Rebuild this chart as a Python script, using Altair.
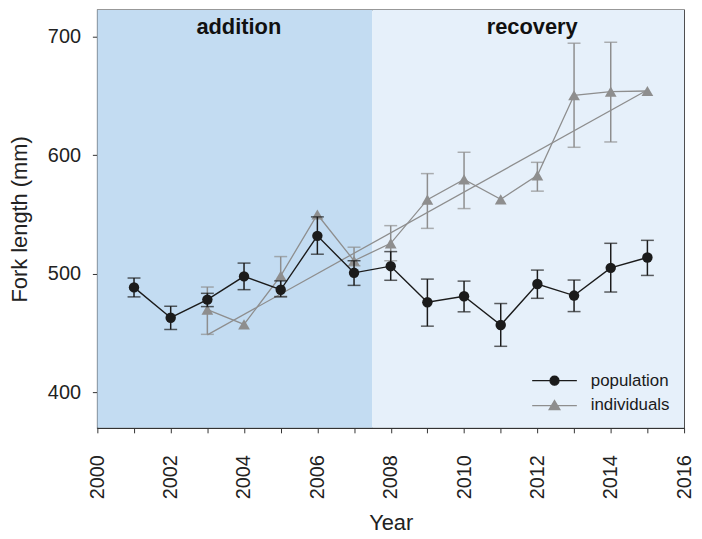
import altair as alt
import pandas as pd

# ---- data ----
pop_years = [2001, 2002, 2003, 2004, 2005, 2006, 2007, 2008, 2009, 2010, 2011, 2012, 2013, 2014, 2015]
pop_mean = [488.5, 462.9, 478.2, 497.8, 486.5, 532.0, 500.8, 506.4, 476.0, 481.0, 456.8, 491.4, 481.6, 505.0, 513.7]
pop_lo = [480.5, 453.0, 472.3, 486.6, 480.5, 516.5, 490.2, 494.5, 455.8, 467.9, 438.8, 479.3, 468.1, 484.6, 498.6]
pop_hi = [496.4, 472.6, 483.5, 509.0, 494.0, 548.0, 511.0, 518.7, 495.5, 493.8, 474.9, 503.1, 494.7, 525.7, 528.2]

ind_years = [2003, 2004, 2005, 2006, 2007, 2008, 2009, 2010, 2011, 2012, 2013, 2014, 2015]
ind_mean = [469.8, 457.3, 498.3, 550.0, 511.0, 525.7, 562.5, 579.6, 562.8, 583.0, 650.6, 653.6, 654.2]
ind_lo = [448.9, None, 481.0, None, 506.7, 511.0, 538.3, 555.0, None, 569.7, 606.7, 611.2, None]
ind_hi = [488.8, None, 514.5, None, 522.4, 540.6, 584.5, 602.5, None, 594.0, 694.5, 695.3, None]

trend_years = [2003, 2015]
trend_vals = [448.5, 655.0]

phases = ["addition", "recovery"]
phase_start = [2000, 2007.5]
phase_end = [2007.5, 2016]

series_names = ["population", "individuals"]

x_ticks = list(range(2000, 2017))
y_ticks = [400, 500, 600, 700]

# ---- styling ----
BLACK = "#1b1b1b"
GRAY = "#8e8e8e"
BAND_COLORS = ["#c3dcf2", "#e6f0fa"]
FONT = "Liberation Sans"
W, H = 591, 421

pop = pd.DataFrame({"year": pop_years, "mean": pop_mean, "lo": pop_lo, "hi": pop_hi})
ind = pd.DataFrame({"year": ind_years, "mean": ind_mean, "lo": ind_lo, "hi": ind_hi})
trend = pd.DataFrame({"year": trend_years, "val": trend_vals})
bands = pd.DataFrame({"phase": phases, "start": phase_start, "end": phase_end})
leg = pd.DataFrame({"series": series_names})

xscale = alt.Scale(domain=[2000, 2016], nice=False, zero=False)
yscale = alt.Scale(domain=[370, 722.6], nice=False, zero=False)

x_axis = alt.Axis(
    title="Year", values=x_ticks, format="d",
    labelExpr="datum.value % 2 == 0 ? datum.label : ''",
    labelAngle=270, labelFontSize=20, titleFontSize=22,
    labelPadding=22, titlePadding=14, tickSize=5, grid=False,
)
y_axis = alt.Axis(
    title="Fork length (mm)", values=y_ticks, labelFontSize=20, titleFontSize=22,
    labelPadding=12, titlePadding=16, tickSize=5, grid=False,
)

X = alt.X("year:Q", scale=xscale, axis=x_axis)

band_layer = alt.Chart(bands).mark_rect().encode(
    x=alt.X("start:Q", scale=xscale, axis=x_axis),
    x2="end:Q",
    color=alt.Color("phase:N", scale=alt.Scale(domain=phases, range=BAND_COLORS), legend=None),
)

band_text = alt.Chart(bands).transform_calculate(
    mid="(datum.start + datum.end) / 2"
).mark_text(font=FONT, fontSize=22, fontWeight="bold", color="#111", baseline="middle", dx=4).encode(
    x=alt.X("mid:Q", scale=xscale, axis=x_axis),
    y=alt.value(17),
    text="phase:N",
)

trend_layer = alt.Chart(trend).mark_line(color=GRAY, strokeWidth=1.3).encode(
    x=X, y=alt.Y("val:Q", scale=yscale, axis=y_axis)
)


def series_layers(df, color, shape, size, lw):
    base = alt.Chart(df)
    Y = alt.Y("mean:Q", scale=yscale, axis=y_axis)
    line = base.mark_line(color=color, strokeWidth=lw).encode(x=X, y=Y)
    errs = base.transform_filter("isValid(datum.lo)")
    rule = errs.mark_rule(color=color, strokeWidth=1.5).encode(
        x=X, y=alt.Y("lo:Q", scale=yscale, axis=y_axis), y2="hi:Q"
    )
    cap_lo = errs.mark_tick(orient="horizontal", size=13, thickness=1.5, color=color).encode(
        x=X, y=alt.Y("lo:Q", scale=yscale, axis=y_axis)
    )
    cap_hi = errs.mark_tick(orient="horizontal", size=13, thickness=1.5, color=color).encode(
        x=X, y=alt.Y("hi:Q", scale=yscale, axis=y_axis)
    )
    pts = base.mark_point(filled=True, opacity=1, color=color, shape=shape, size=size).encode(x=X, y=Y)
    return [line, rule, cap_lo, cap_hi, pts]


pop_layers = series_layers(pop, BLACK, "circle", 110, 1.4)
ind_layers = series_layers(ind, GRAY, "triangle-up", 140, 1.3)

legend_paths = [
    "M-5,0H5M1,0A1,1,0,1,1,-1,0A1,1,0,1,1,1,0Z",
    "M-5,0H5M0,-1.1L1.2,0.9L-1.2,0.9Z",
]
legend_layer = alt.Chart(leg).transform_filter("false").mark_point(filled=True, opacity=1).encode(
    x=alt.value(0),
    y=alt.value(0),
    shape=alt.Shape("series:N", scale=alt.Scale(domain=series_names, range=legend_paths),
                    legend=alt.Legend(title=None, orient="none", legendX=452, legendY=365,
                                      symbolSize=81, symbolStrokeWidth=1.3, labelFontSize=17,
                                      labelOffset=28, rowPadding=7, padding=0,
                                      labelColor="#1a1a1a", labelFont=FONT)),
    fill=alt.Fill("series:N", scale=alt.Scale(domain=series_names, range=[BLACK, GRAY]), legend=None),
    stroke=alt.Stroke("series:N", scale=alt.Scale(domain=series_names, range=[BLACK, GRAY]), legend=None),
)

chart = alt.layer(
    band_layer, band_text, trend_layer, *ind_layers, *pop_layers, legend_layer
).properties(width=W, height=H, padding=0).configure_view(
    stroke="#333", strokeWidth=1.3
).configure_axis(
    domainColor="#333", tickColor="#333", labelColor="#222", titleColor="#222",
    labelFont=FONT, titleFont=FONT, titleFontWeight="normal", domainWidth=1.3,
)

chart.save("out.html", embed_options={"renderer": "svg", "actions": False})
